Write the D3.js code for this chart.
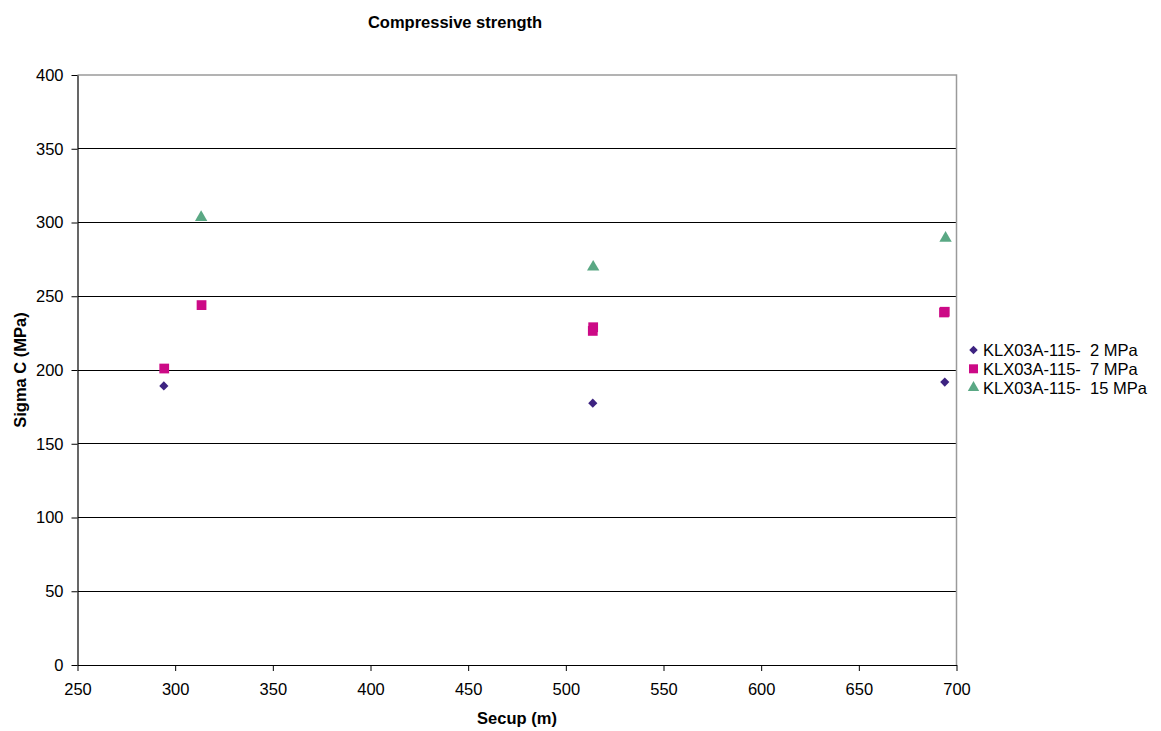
<!DOCTYPE html>
<html>
<head>
<meta charset="utf-8">
<script src="https://cdn.jsdelivr.net/npm/d3@7"></script>
<style>
  html, body { margin: 0; padding: 0; background: #fff; }
  svg { display: block; font-family: "Liberation Sans", Arial, sans-serif; }
</style>
</head>
<body>
<svg id="chart" width="1161" height="731"></svg>
<script>
// Compressive strength per confining pressure, KLX03A-115
const seriesNames = ["KLX03A-115-  2 MPa", "KLX03A-115-  7 MPa", "KLX03A-115-  15 MPa"];
const secup2  = [294.2, 513.8, 694.0];
const sigma2  = [189.2, 177.5, 191.8];
const secup7  = [294.4, 313.5, 513.8, 514.0, 693.6, 694.0];
const sigma7  = [201.0, 244.0, 226.5, 229.0, 239.0, 239.5];
const secup15 = [313.3, 514.0, 694.4];
const sigma15 = [303.5, 269.8, 289.4];
const xTicks = [250, 300, 350, 400, 450, 500, 550, 600, 650, 700];
const yTicks = [0, 50, 100, 150, 200, 250, 300, 350, 400];

const colors = ["#3d2381", "#cc0a86", "#5aa884"];
// diamond = square turned by 45 degrees
const shapes = [d3.symbolSquare, d3.symbolSquare, d3.symbolTriangle];
const rotations = [45, 0, 0];
const sizes = [42, 95, 66];

const svg = d3.select("#chart");
const m = { left: 77.5, right: 956.5, top: 75, bottom: 665 };
const fs = 16.5;

const x = d3.scaleLinear().domain([250, 700]).range([m.left, m.right]);
const y = d3.scaleLinear().domain([0, 400]).range([m.bottom, m.top]);

// gridlines
svg.append("g")
  .selectAll("line")
  .data(yTicks.filter(t => t > 0 && t < 400))
  .join("line")
  .attr("x1", m.left).attr("x2", m.right)
  .attr("y1", d => y(d)).attr("y2", d => y(d))
  .attr("stroke", "#000").attr("stroke-width", 1)
  .attr("shape-rendering", "crispEdges");

// plot frame (top and right in grey)
svg.append("path")
  .attr("d", `M${m.left},${m.top}H${m.right}V${m.bottom}`)
  .attr("fill", "none").attr("stroke", "#9a9a9a").attr("stroke-width", 1.5);

// axes
const xAxis = svg.append("g")
  .attr("transform", `translate(0,${m.bottom})`)
  .call(d3.axisBottom(x).tickValues(xTicks).tickSize(6).tickPadding(12).tickSizeOuter(0));
const yAxis = svg.append("g")
  .attr("transform", `translate(${m.left},0)`)
  .call(d3.axisLeft(y).tickValues(yTicks).tickSize(6).tickPadding(8).tickSizeOuter(0));

[xAxis, yAxis].forEach(a => {
  a.select(".domain").attr("stroke", "#000").attr("stroke-width", 1.2);
  a.selectAll(".tick line").attr("stroke", "#000");
  a.selectAll(".tick text")
    .attr("font-family", "Liberation Sans, Arial, sans-serif")
    .attr("font-size", fs).attr("fill", "#000");
});

// markers
const series = [
  secup2.map((v, i) => [v, sigma2[i]]),
  secup7.map((v, i) => [v, sigma7[i]]),
  secup15.map((v, i) => [v, sigma15[i]])
];

series.forEach((pts, s) => {
  svg.append("g")
    .selectAll("path")
    .data(pts)
    .join("path")
    .attr("transform", d => `translate(${x(d[0])},${y(d[1])}) rotate(${rotations[s]})`)
    .attr("d", d3.symbol().type(shapes[s]).size(sizes[s]))
    .attr("fill", colors[s]);
});

// titles
svg.append("text")
  .attr("x", 455).attr("y", 28)
  .attr("text-anchor", "middle")
  .attr("font-size", fs).attr("font-weight", "bold")
  .text("Compressive strength");

svg.append("text")
  .attr("x", 517).attr("y", 724)
  .attr("text-anchor", "middle")
  .attr("font-size", fs).attr("font-weight", "bold")
  .text("Secup (m)");

svg.append("text")
  .attr("transform", "translate(26,370) rotate(-90)")
  .attr("text-anchor", "middle")
  .attr("font-size", fs).attr("font-weight", "bold")
  .text("Sigma C (MPa)");

// legend
const legend = svg.append("g");
seriesNames.forEach((name, i) => {
  const ly = 350 + i * 18.8;
  legend.append("path")
    .attr("transform", `translate(973.5,${ly}) rotate(${rotations[i]})`)
    .attr("d", d3.symbol().type(shapes[i]).size(sizes[i] * 0.85))
    .attr("fill", colors[i]);
  legend.append("text")
    .attr("x", 983).attr("y", ly + 6)
    .attr("font-size", fs)
    .attr("xml:space", "preserve")
    .style("white-space", "pre")
    .text(name);
});
</script>
</body>
</html>
